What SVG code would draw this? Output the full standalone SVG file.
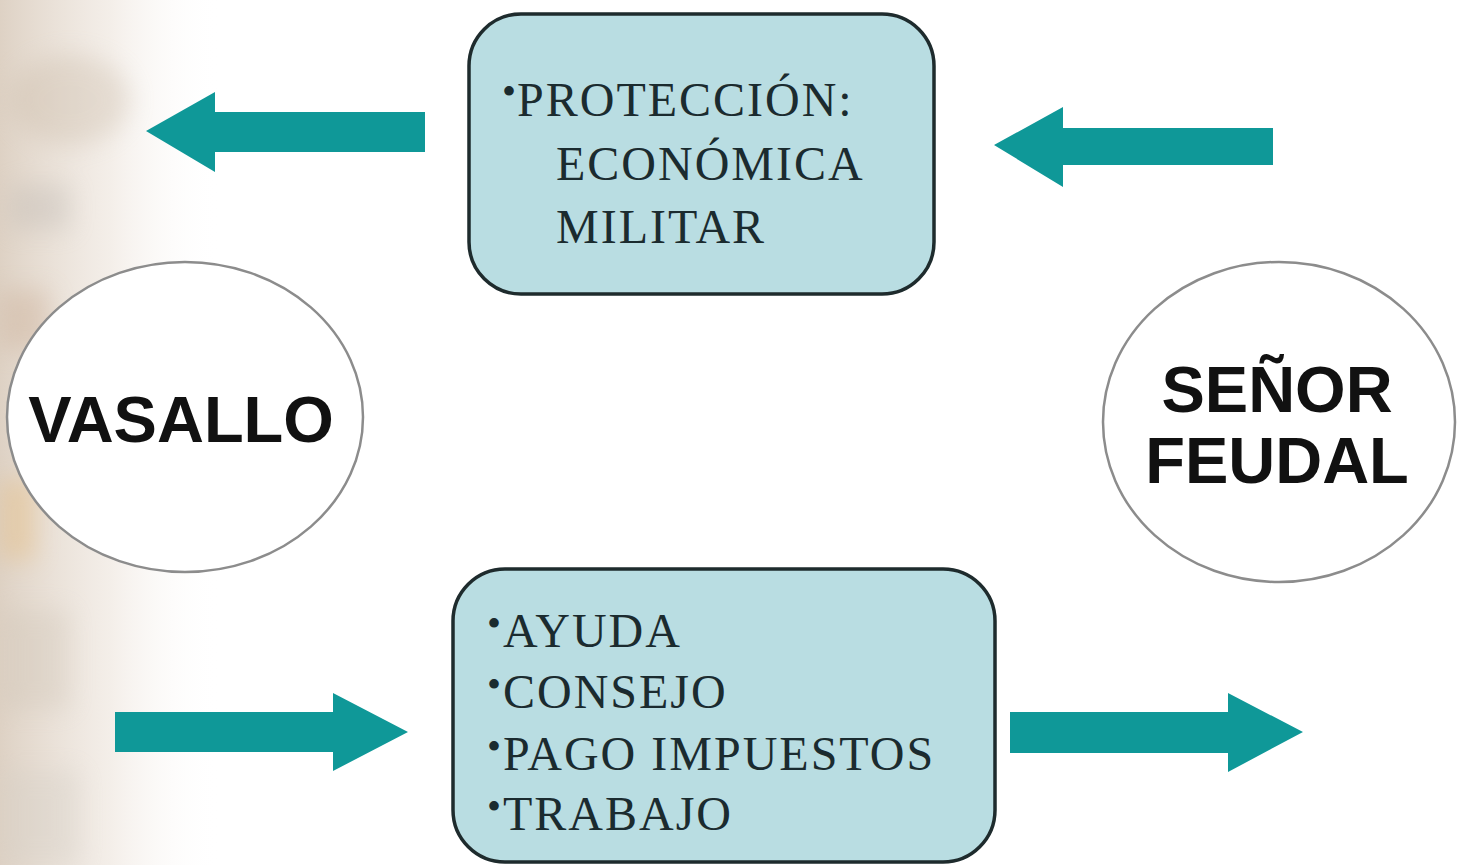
<svg xmlns="http://www.w3.org/2000/svg" width="1458" height="865" viewBox="0 0 1458 865">
  <defs>
    <linearGradient id="fade" x1="0" y1="0" x2="1" y2="0">
      <stop offset="0" stop-color="#dccfc1" stop-opacity="0.95"/>
      <stop offset="0.5" stop-color="#ece3da" stop-opacity="0.6"/>
      <stop offset="1" stop-color="#ffffff" stop-opacity="0"/>
    </linearGradient>
    <filter id="blur" x="-50%" y="-50%" width="200%" height="200%">
      <feGaussianBlur stdDeviation="12"/>
    </filter>
    <style>
      .box { fill: #b9dde2; stroke: #1e2b2d; stroke-width: 3.5; }
      .oval { fill: #ffffff; stroke: #8c8c8c; stroke-width: 2.5; }
      .arrow { fill: #0f9898; }
      .serif { font-family: "Liberation Serif", "Times New Roman", serif; font-size: 48px; fill: #1b2b2f; letter-spacing: 2px; }
      .bullet { font-family: "Liberation Serif", "Times New Roman", serif; font-size: 40px; fill: #1b2b2f; }
      .sans { font-family: "Liberation Sans", Arial, sans-serif; font-weight: bold; font-size: 65px; fill: #111111; }
    </style>
  </defs>

  <rect x="0" y="0" width="1458" height="865" fill="#ffffff"/>
  <!-- faded background on the left -->
  <g id="background">
    <rect x="0" y="0" width="220" height="865" fill="url(#fade)"/>
    <g filter="url(#blur)" opacity="0.35">
      <ellipse cx="70" cy="100" rx="60" ry="45" fill="#c9b9a6"/>
      <rect x="10" y="185" width="60" height="45" fill="#bcb6b0"/>
      <rect x="0" y="290" width="50" height="60" fill="#c8a88e"/>
      <rect x="0" y="480" width="35" height="80" fill="#e7b56a"/>
      <rect x="0" y="610" width="70" height="100" fill="#cfc4b6"/>
      <rect x="0" y="770" width="80" height="95" fill="#d3cdc4"/>
    </g>
  </g>

  <g id="connectors">
    <polygon class="arrow" points="425,112 215,112 215,92 146,131 215,172 215,152 425,152"/>
    <polygon class="arrow" points="1273,128 1063,128 1063,107 994,145 1063,187 1063,165 1273,165"/>
    <polygon class="arrow" points="115,712 333,712 333,693 408,732 333,771 333,752 115,752"/>
    <polygon class="arrow" points="1010,712 1228,712 1228,693 1303,732 1228,772 1228,753 1010,753"/>
  </g>

  <g id="proteccion">
    <rect class="box" x="469" y="14" width="465" height="280" rx="52" ry="52"/>
    <text class="bullet" x="502" y="105">•</text>
    <text class="serif" x="517" y="116">PROTECCIÓN:</text>
    <text class="serif" x="556" y="180">ECONÓMICA</text>
    <text class="serif" x="556" y="243">MILITAR</text>
  </g>

  <g id="obligaciones">
    <rect class="box" x="453" y="569" width="542" height="293" rx="52" ry="52"/>
    <text class="bullet" x="487" y="637">•</text>
    <text class="serif" x="503" y="647">AYUDA</text>
    <text class="bullet" x="487" y="698">•</text>
    <text class="serif" x="503" y="708">CONSEJO</text>
    <text class="bullet" x="487" y="760">•</text>
    <text class="serif" x="503" y="770">PAGO IMPUESTOS</text>
    <text class="bullet" x="487" y="820">•</text>
    <text class="serif" x="503" y="830">TRABAJO</text>
  </g>

  <g id="vasallo">
    <ellipse class="oval" cx="185" cy="417" rx="178" ry="155"/>
    <text class="sans" x="181" y="442" text-anchor="middle">VASALLO</text>
  </g>

  <g id="senor">
    <ellipse class="oval" cx="1279" cy="422" rx="176" ry="160"/>
    <text class="sans" x="1277" y="412" text-anchor="middle">SEÑOR</text>
    <text class="sans" x="1277" y="483" text-anchor="middle">FEUDAL</text>
  </g>
</svg>
